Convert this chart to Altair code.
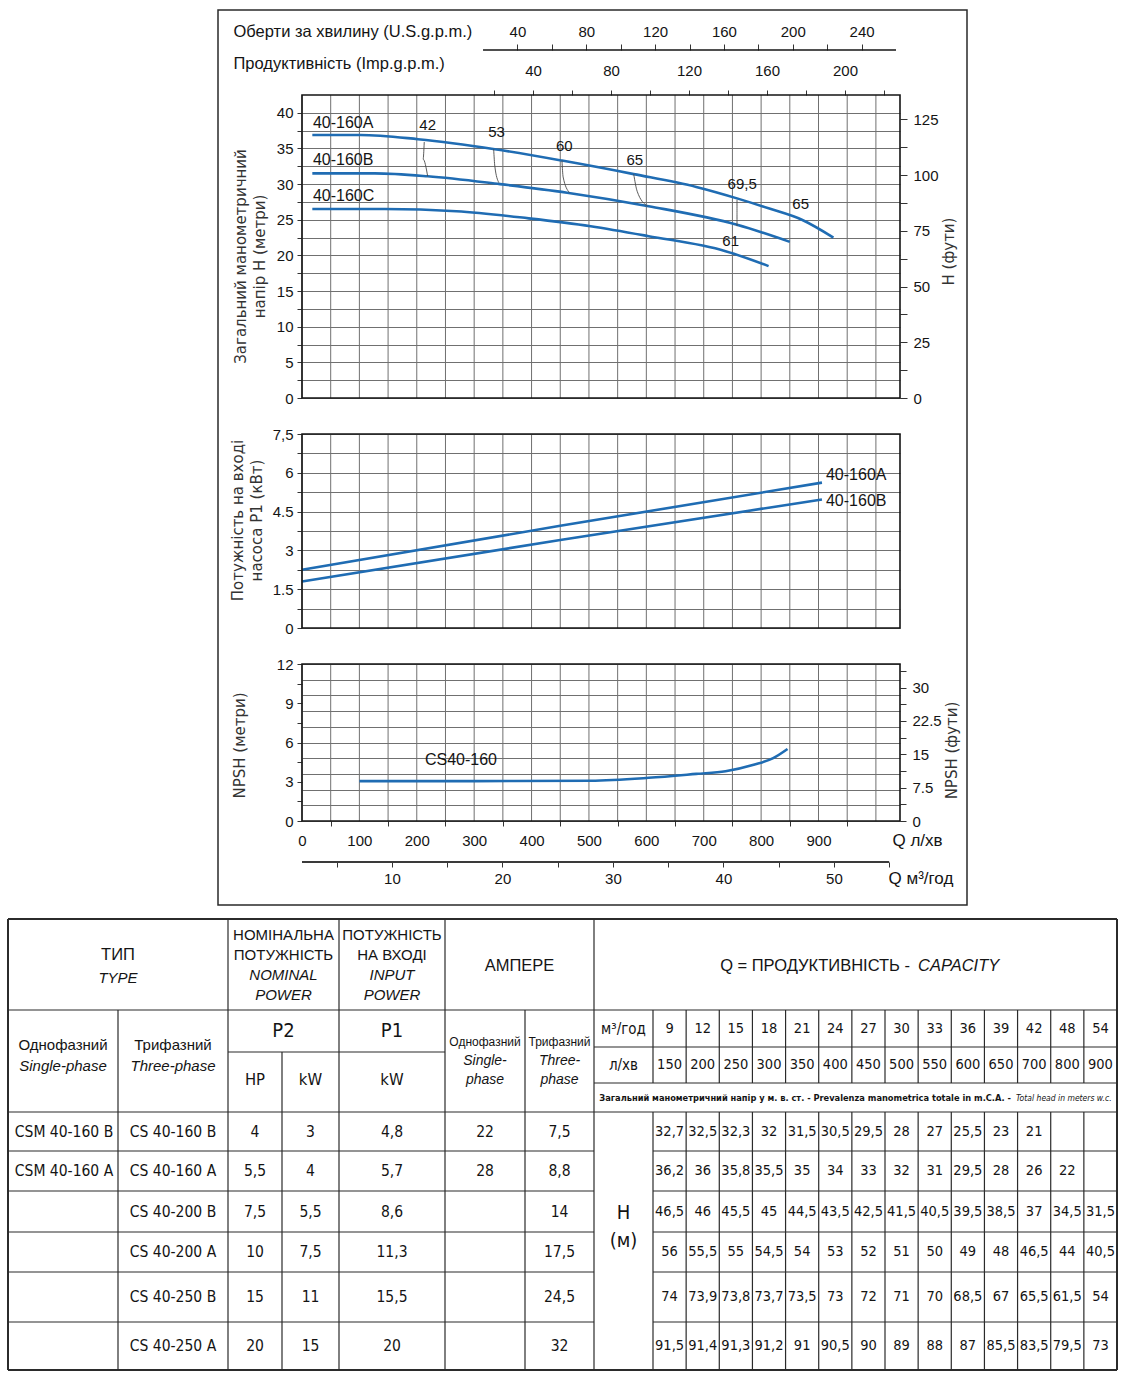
import altair as alt
import pandas as pd

# ============================ DATA ============================
# Head curves: Q in l/min, H in metres
head_a_q = [18, 102, 202, 336, 453, 578, 687, 758, 813, 871, 926]
head_a_h = [36.9, 36.9, 36.3, 34.9, 33.3, 31.4, 29.6, 28.0, 26.6, 25.0, 22.5]
head_b_q = [18, 127, 219, 345, 462, 604, 758, 850]
head_b_h = [31.5, 31.5, 31.1, 30.0, 28.8, 26.9, 24.3, 21.9]
head_c_q = [18, 144, 269, 395, 503, 604, 738, 813]
head_c_h = [26.5, 26.5, 26.2, 25.2, 24.1, 22.7, 20.6, 18.5]
curve_names = ["40-160A", "40-160B", "40-160C"]
curve_name_q = [19, 19, 19]
curve_name_h = [38.6, 33.4, 28.4]

# efficiency labels (%)
eff_labels = ["42", "53", "60", "65", "69,5", "65", "61"]
eff_q = [219, 339, 457, 580, 767, 869, 747]
eff_h = [38.3, 37.3, 35.4, 33.4, 30.0, 27.2, 22.0]

# efficiency leader lines (from curve A down to curve B)
leader_id = ["42"] * 3 + ["53"] * 3 + ["60"] * 3 + ["65"] * 3 + ["69,5"] * 3
leader_k = [0, 1, 2] * 5
leader_q = [213, 211, 219, 334, 336, 343, 453, 455, 466, 578, 584, 602, 758, 758, 758]
leader_h = [35.9, 33.5, 31.1, 34.9, 32.5, 30.2, 33.3, 31.0, 28.8, 31.4, 29.0, 26.9, 27.8, 26.0, 24.1]

# Input power P1 (kW)
power_a_q = [0, 450, 906]
power_a_p = [2.25, 3.95, 5.62]
power_b_q = [0, 450, 906]
power_b_p = [1.80, 3.40, 4.97]
power_names = ["40-160A", "40-160B"]
power_name_q = [913, 913]
power_name_p = [5.9, 4.9]

# NPSH (m)
npsh_q = [100, 300, 503, 604, 687, 738, 787, 821, 846]
npsh_m = [3.05, 3.05, 3.08, 3.3, 3.6, 3.8, 4.3, 4.8, 5.5]
npsh_name = ["CS40-160"]
npsh_name_q = [277]
npsh_name_m = [4.7]

# axis ticks and axis extents
Q_DOMAIN = [0, 1042]
Q_TICKS = list(range(0, 1001, 50))
HEAD_DOMAIN = [0, 42.5]
HEAD_TICKS = [2.5 * i for i in range(17)]
HEAD_FT_DOMAIN = [0, 135.9]
HEAD_FT_TICKS = [12.5 * i for i in range(11)]
IMP_DOMAIN = [-78.5, 228.2]
IMP_TICKS = list(range(20, 221, 20))
US_DOMAIN = [-85.2, 262.3]
US_LINE = [20, 260]
US_TICKS = list(range(40, 241, 20))
POWER_DOMAIN = [0, 7.5]
POWER_TICKS = [0.75 * i for i in range(11)]
NPSH_DOMAIN = [0, 12]
NPSH_GRID = [1.2 * i for i in range(11)]
NPSH_TICKS = [1.5 * i for i in range(9)]
NPSH_FT_DOMAIN = [0, 35.3]
NPSH_FT_TICKS = [3.75 * i for i in range(10)]
M3H_DOMAIN = [1.86, 55.98]
M3H_LINE = [1.86, 55]
M3H_TICKS = list(range(5, 56, 5))

# Table
tbl_single = ["CSM 40-160 B", "CSM 40-160 A", "", "", "", ""]
tbl_three = ["CS 40-160 B", "CS 40-160 A", "CS 40-200 B", "CS 40-200 A", "CS 40-250 B", "CS 40-250 A"]
tbl_hp = ["4", "5,5", "7,5", "10", "15", "20"]
tbl_kw = ["3", "4", "5,5", "7,5", "11", "15"]
tbl_p1 = ["4,8", "5,7", "8,6", "11,3", "15,5", "20"]
tbl_amp1 = ["22", "28", "", "", "", ""]
tbl_amp3 = ["7,5", "8,8", "14", "17,5", "24,5", "32"]
tbl_q_m3h = ["9", "12", "15", "18", "21", "24", "27", "30", "33", "36", "39", "42", "48", "54"]
tbl_q_lmin = ["150", "200", "250", "300", "350", "400", "450", "500", "550", "600", "650", "700", "800", "900"]
tbl_head = [
    ["32,7", "32,5", "32,3", "32", "31,5", "30,5", "29,5", "28", "27", "25,5", "23", "21", "", ""],
    ["36,2", "36", "35,8", "35,5", "35", "34", "33", "32", "31", "29,5", "28", "26", "22", ""],
    ["46,5", "46", "45,5", "45", "44,5", "43,5", "42,5", "41,5", "40,5", "39,5", "38,5", "37", "34,5", "31,5"],
    ["56", "55,5", "55", "54,5", "54", "53", "52", "51", "50", "49", "48", "46,5", "44", "40,5"],
    ["74", "73,9", "73,8", "73,7", "73,5", "73", "72", "71", "70", "68,5", "67", "65,5", "61,5", "54"],
    ["91,5", "91,4", "91,3", "91,2", "91", "90,5", "90", "89", "88", "87", "85,5", "83,5", "79,5", "73"],
]

# ============================ STYLE / LAYOUT ============================
BLUE = "#1f6cb3"
INK = "#141414"
GRID = "#707070"
SANS = "Liberation Sans, Arial, sans-serif"
NARROW = "Liberation Sans Narrow, Arial Narrow, DejaVu Sans Condensed, sans-serif"
TFONT = "DejaVu Sans, Verdana, sans-serif"

PLOT_W = 598
TOTAL_H = 726                 # from top of head panel to bottom of NPSH panel
HEAD_RANGE = [303, 0]         # pixel rows of each panel inside the common drawing area
POWER_RANGE = [533, 339]
NPSH_RANGE = [726, 569]


def sc(domain, rng=None):
    if rng is None:
        return alt.Scale(domain=domain, nice=False, zero=False)
    return alt.Scale(domain=domain, range=rng, nice=False, zero=False)


def Xq(axis=None, field="q:Q"):
    return alt.X(field, scale=sc(Q_DOMAIN), axis=axis)


def hidden_labels(step):
    return f"datum.value % {step} == 0 ? datum.label : ''"


def vgrid(domain, rng):
    n = len(Q_TICKS)
    df = pd.DataFrame({"q": Q_TICKS, "lo": [domain[0]] * n, "hi": [domain[1]] * n})
    return alt.Chart(df).mark_rule(color=GRID, strokeWidth=1).encode(
        x=Xq(), y=alt.Y("lo:Q", scale=sc(domain, rng), axis=None), y2="hi:Q")


def border(domain, rng):
    df = pd.DataFrame({"q": [Q_DOMAIN[0]], "q2": [Q_DOMAIN[1]], "lo": [domain[0]], "hi": [domain[1]]})
    return alt.Chart(df).mark_rect(fillOpacity=0, stroke=INK, strokeWidth=1.6).encode(
        x=Xq(), x2="q2:Q", y=alt.Y("lo:Q", scale=sc(domain, rng), axis=None), y2="hi:Q")


def labels_layer(q, v, t, domain, rng, size=16, align="center"):
    df = pd.DataFrame({"q": q, "v": v, "t": t})
    return alt.Chart(df).mark_text(font=SANS, fontSize=size, color=INK, align=align).encode(
        x=Xq(), y=alt.Y("v:Q", scale=sc(domain, rng), axis=None), text="t:N")


layers = []

# ---------------- HEAD PANEL ----------------
head_df = pd.DataFrame({
    "q": head_a_q + head_b_q + head_c_q,
    "h": head_a_h + head_b_h + head_c_h,
    "curve": ["A"] * len(head_a_q) + ["B"] * len(head_b_q) + ["C"] * len(head_c_q),
})
layers.append(vgrid(HEAD_DOMAIN, HEAD_RANGE))
layers.append(alt.Chart(head_df).mark_line(color=BLUE, strokeWidth=2.6, interpolate="monotone").encode(
    x=Xq(),
    y=alt.Y("h:Q", scale=sc(HEAD_DOMAIN, HEAD_RANGE), axis=alt.Axis(
        values=HEAD_TICKS, format=".1~f", labelExpr=hidden_labels(5), tickSize=5, labelPadding=4,
        domain=False, grid=True, title=["Загальний манометричний", "напір H (метри)"],
        titleX=-62, titleY=161, titleAngle=270, titleAlign="center", titleBaseline="middle",
        titleLineHeight=19)),
    detail="curve:N"))
leader_df = pd.DataFrame({"q": leader_q, "h": leader_h, "id": leader_id, "k": leader_k})
layers.append(alt.Chart(leader_df).mark_line(color="#4a4a4a", strokeWidth=0.9, interpolate="monotone").encode(
    x=Xq(), y=alt.Y("h:Q", scale=sc(HEAD_DOMAIN, HEAD_RANGE), axis=None), detail="id:N", order="k:Q"))
layers.append(labels_layer(eff_q, eff_h, eff_labels, HEAD_DOMAIN, HEAD_RANGE, size=15))
layers.append(labels_layer(curve_name_q, curve_name_h, curve_names, HEAD_DOMAIN, HEAD_RANGE, size=16,
                           align="left"))
layers.append(border(HEAD_DOMAIN, HEAD_RANGE))

layers.append(alt.Chart(pd.DataFrame({"ft": HEAD_FT_DOMAIN})).mark_point(opacity=0).encode(
    x=alt.value(0),
    y=alt.Y("ft:Q", scale=sc(HEAD_FT_DOMAIN, HEAD_RANGE), axis=alt.Axis(
        orient="right", values=HEAD_FT_TICKS, format=".1~f", labelExpr=hidden_labels(25), tickSize=7,
        labelPadding=6, domain=False, grid=False, title="H (фути)", titleX=48, titleY=156,
        titleAngle=270, titleAlign="center", titleBaseline="middle"))))

layers.append(alt.Chart(pd.DataFrame({"imp": IMP_DOMAIN})).mark_point(opacity=0).encode(
    y=alt.value(0),
    x=alt.X("imp:Q", scale=sc(IMP_DOMAIN), axis=alt.Axis(
        orient="top", values=IMP_TICKS, labelExpr=hidden_labels(40), tickSize=5, labelPadding=12,
        domain=False, grid=False, title="Продуктивність (Imp.g.p.m.)", titleX=-69, titleY=-32,
        titleAngle=0, titleAlign="left", titleBaseline="middle", titleFont=SANS, titleFontSize=16.5,
        titleColor=INK))))

us_df = pd.DataFrame({"us": [US_LINE[0]], "us2": [US_LINE[1]]})
layers.append(alt.Chart(us_df).mark_rule(color=INK, strokeWidth=1.6).encode(
    y=alt.value(-45),
    x=alt.X("us:Q", scale=sc(US_DOMAIN),
            axis=alt.Axis(orient="top", offset=45, values=US_TICKS, labelExpr=hidden_labels(40), tickSize=6,
                          labelPadding=4.5, domain=False, grid=False,
                          title="Оберти за хвилину (U.S.g.p.m.)", titleX=-69, titleY=-19, titleAngle=0,
                          titleAlign="left", titleBaseline="middle", titleFont=SANS, titleFontSize=16.5,
                          titleColor=INK)),
    x2="us2:Q"))

# outer frame around the three diagrams
layers.append(alt.Chart(alt.Data(values=[{"a": 1}])).mark_rect(
    fillOpacity=0, stroke="#2a2a2a", strokeWidth=1.5).encode(
    x=alt.value(-84), x2=alt.value(665), y=alt.value(-85), y2=alt.value(810)))

# ---------------- POWER PANEL ----------------
power_df = pd.DataFrame({
    "q": power_a_q + power_b_q,
    "p": power_a_p + power_b_p,
    "curve": ["A"] * len(power_a_q) + ["B"] * len(power_b_q),
})
layers.append(vgrid(POWER_DOMAIN, POWER_RANGE))
layers.append(alt.Chart(power_df).mark_line(color=BLUE, strokeWidth=2.6).encode(
    x=Xq(),
    y=alt.Y("p:Q", scale=sc(POWER_DOMAIN, POWER_RANGE), axis=alt.Axis(
        values=POWER_TICKS, format=".2~f",
        labelExpr="datum.value == 7.5 ? '7,5' : (datum.value % 1.5 == 0 ? datum.label : '')",
        tickSize=5, labelPadding=4, domain=False, grid=True,
        title=["Потужність на вході", "насоса P1 (кВт)"], titleX=-65, titleY=425, titleAngle=270,
        titleAlign="center", titleBaseline="middle", titleLineHeight=19)),
    detail="curve:N"))
layers.append(labels_layer(power_name_q, power_name_p, power_names, POWER_DOMAIN, POWER_RANGE, size=16,
                           align="left"))
layers.append(border(POWER_DOMAIN, POWER_RANGE))

# ---------------- NPSH PANEL ----------------
npsh_df = pd.DataFrame({"q": npsh_q, "n": npsh_m})
layers.append(vgrid(NPSH_DOMAIN, NPSH_RANGE))
layers.append(alt.Chart(npsh_df).mark_line(color=BLUE, strokeWidth=2.6, interpolate="monotone").encode(
    x=Xq(axis=alt.Axis(
        values=Q_TICKS, labelExpr="datum.value % 100 == 0 && datum.value <= 900 ? datum.label : ''",
        tickSize=5, tickOpacity={"condition": {"test": "datum.value % 100 == 0", "value": 0}, "value": 1},
        labelPadding=7.5, domain=False, grid=False, title="Q л/хв", titleX=590, titleY=19,
        titleAlign="left", titleBaseline="middle", titleAngle=0, titleFont=SANS, titleFontSize=17,
        titleColor=INK)),
    y=alt.Y("n:Q", scale=sc(NPSH_DOMAIN, NPSH_RANGE), axis=alt.Axis(
        values=NPSH_GRID, labels=False, ticks=False, domain=False, grid=True, title=None))))
layers.append(labels_layer(npsh_name_q, npsh_name_m, npsh_name, NPSH_DOMAIN, NPSH_RANGE, size=16))
layers.append(border(NPSH_DOMAIN, NPSH_RANGE))

layers.append(alt.Chart(pd.DataFrame({"m": NPSH_DOMAIN})).mark_point(opacity=0).encode(
    x=alt.value(0),
    y=alt.Y("m:Q", scale=sc(NPSH_DOMAIN, NPSH_RANGE), axis=alt.Axis(
        orient="left", values=NPSH_TICKS, format=".1~f", labelExpr=hidden_labels(3), tickSize=5,
        labelPadding=4, domain=False, grid=False, title="NPSH (метри)", titleX=-63, titleY=650,
        titleAngle=270, titleAlign="center", titleBaseline="middle"))))

layers.append(alt.Chart(pd.DataFrame({"ft": NPSH_FT_DOMAIN})).mark_point(opacity=0).encode(
    x=alt.value(0),
    y=alt.Y("ft:Q", scale=sc(NPSH_FT_DOMAIN, NPSH_RANGE), axis=alt.Axis(
        orient="right", values=NPSH_FT_TICKS, format=".1~f", labelExpr=hidden_labels(7.5), tickSize=6,
        labelPadding=6, domain=False, grid=False, title="NPSH (фути)", titleX=51, titleY=655,
        titleAngle=270, titleAlign="center", titleBaseline="middle"))))

m3_df = pd.DataFrame({"m3": [M3H_LINE[0]], "m3b": [M3H_LINE[1]]})
layers.append(alt.Chart(m3_df).mark_rule(color="#3a3a3a", strokeWidth=1.8).encode(
    y=alt.value(TOTAL_H + 41),
    x=alt.X("m3:Q", scale=sc(M3H_DOMAIN),
            axis=alt.Axis(orient="bottom", offset=41, values=M3H_TICKS,
                          labelExpr="datum.value % 10 == 0 && datum.value <= 50 ? datum.label : ''",
                          tickSize=5, labelPadding=4.5, domain=False,
                          grid=False, title="Q м³/год", titleX=586, titleY=16, titleAlign="left",
                          titleBaseline="middle", titleAngle=0, titleFont=SANS, titleFontSize=17,
                          titleColor=INK)),
    x2="m3b:Q"))

# ---------------- TABLE ----------------
T_W, T_H = 1109, 451
T_DW = (T_W - 645) / 14
T_DCOLS = [645 + T_DW * k for k in range(15)]
T_ROWS = [193, 232, 272, 313, 353, 403, 451]
row_mid = [(T_ROWS[i] + T_ROWS[i + 1]) / 2 for i in range(6)]
dcol_mid = [(T_DCOLS[i] + T_DCOLS[i + 1]) / 2 for i in range(14)]
T_XRANGE = [-294, 815]        # table drawn from x=8 to x=1117 of the page
T_YRANGE = [824, 1275]        # and from y=919 to y=1370

rules = []


def rule(x1, y1, x2, y2, w=1.2):
    rules.append({"tx": x1, "ty": y1, "tx2": x2, "ty2": y2, "w": w})


for yy in [0, T_H]:
    rule(0, yy, T_W, yy, 2)
for xx in [0, T_W]:
    rule(xx, 0, xx, T_H, 2)
rule(0, 91, T_W, 91)
rule(0, 193, T_W, 193)
rule(220, 133, 437, 133)
rule(586, 128, T_W, 128)
rule(586, 164, T_W, 164)
for yy in T_ROWS[1:-1]:
    rule(0, yy, 586, yy)
    rule(645, yy, T_W, yy)
rule(110, 91, 110, T_H)
for xx in [220, 331, 437, 586]:
    rule(xx, 0, xx, T_H)
rule(274, 133, 274, T_H)
rule(517, 91, 517, T_H)
for xx in T_DCOLS[:-1]:
    rule(xx, 91, xx, 164)
    rule(xx, 193, xx, T_H)


def tx():
    return alt.X("tx:Q", scale=sc([0, T_W], T_XRANGE), axis=None)


def ty():
    return alt.Y("ty:Q", scale=sc([0, T_H], T_YRANGE), axis=None)


layers.append(alt.Chart(pd.DataFrame(rules)).mark_rule(color="#2b2b2b").encode(
    x=tx(), x2="tx2:Q", y=ty(), y2="ty2:Q", strokeWidth=alt.StrokeWidth("w:Q", scale=None)))


def cells(texts, xs, ys):
    return [{"tx": x, "ty": y, "text": t} for t, x, y in zip(texts, xs, ys) if t != ""]


def text_layer(items, size, font=NARROW, style="normal", weight="normal", align="center"):
    return alt.Chart(pd.DataFrame(items)).mark_text(
        font=font, fontSize=size, fontStyle=style, fontWeight=weight, align=align, baseline="middle",
        color=INK).encode(x=tx(), y=ty(), text="text:N")


left_items = []
for col_vals, cx in [(tbl_single, 56), (tbl_three, 165), (tbl_hp, 247), (tbl_kw, 302.5),
                     (tbl_p1, 384), (tbl_amp1, 477), (tbl_amp3, 551.5)]:
    left_items += cells(col_vals, [cx] * 6, row_mid)
grid_items = []
grid_items += cells(tbl_q_m3h, dcol_mid, [109.5] * 14)
grid_items += cells(tbl_q_lmin, dcol_mid, [146] * 14)
for r, row_vals in enumerate(tbl_head):
    grid_items += cells(row_vals, dcol_mid, [row_mid[r]] * 14)
unit_items = cells(["м³/год", "л/хв"], [615.5, 615.5], [109.5, 146])
hpkw_items = cells(["HP", "kW", "kW"], [247, 302.5, 384], [161, 161, 161])

hdr_items = cells(["НОМІНАЛЬНА", "ПОТУЖНІСТЬ", "ПОТУЖНІСТЬ", "НА ВХОДІ",
                   "Однофазний", "Трифазний"],
                  [275.5, 275.5, 384, 384, 55, 165],
                  [16, 36, 16, 36, 126, 126])
title_items = cells(["ТИП", "АМПЕРЕ"], [110, 511.5], [36, 47])
hdr_it_items = cells(["TYPE", "NOMINAL", "POWER", "INPUT", "POWER", "Single-phase", "Three-phase"],
                     [110, 275.5, 275.5, 384, 384, 55, 165],
                     [59, 56, 76, 56, 76, 147, 147])
big_items = cells(["P2", "P1", "H", "(м)"], [275.5, 384, 615.5, 615.5], [112, 112, 294, 322])
amp_items = cells(["Однофазний", "Трифазний"], [477, 551.5], [123, 123])
amp_it_items = cells(["Single-", "phase", "Three-", "phase"], [477, 477, 551.5, 551.5], [142, 161, 142, 161])
q_items = cells(["Q = ПРОДУКТИВНІСТЬ -"], [902], [47])
q_it_items = cells(["CAPACITY"], [910], [47])
tiny_items = cells(["Загальний манометричний напір у м. в. ст. - Prevalenza manometrica totale in m.C.A. -"],
                   [1003], [178.5])
tiny_it_items = cells(["Total head in meters w.c."], [1008], [178.5])

layers += [
    text_layer(left_items, 15.5),
    text_layer(grid_items, 14.5),
    text_layer(unit_items, 15),
    text_layer(hpkw_items, 16.5),
    text_layer(hdr_items, 15, font=SANS),
    text_layer(title_items, 16.5, font=SANS),
    text_layer(hdr_it_items, 15, font=SANS, style="italic"),
    text_layer(big_items, 20),
    text_layer(amp_items, 12, font=SANS),
    text_layer(amp_it_items, 14, font=SANS, style="italic"),
    text_layer(q_items, 16.5, font=SANS, align="right"),
    text_layer(q_it_items, 16.5, font=SANS, style="italic", align="left"),
    text_layer(tiny_items, 9.2, weight="bold", align="right"),
    text_layer(tiny_it_items, 8.5, style="italic", align="left"),
]

chart = alt.layer(*layers).resolve_scale(x="independent", y="independent").properties(
    width=PLOT_W, height=TOTAL_H, padding={"left": 7, "top": 9, "right": 2, "bottom": 2}).configure(
    background="white").configure_view(stroke="transparent").configure_axis(
    labelFont=SANS, labelFontSize=15, labelColor=INK, tickColor="#333333", tickWidth=1,
    gridColor=GRID, gridWidth=1, gridOpacity=1, titleFont=TFONT, titleFontSize=15,
    titleFontWeight="normal", titleColor="#333333", labelOverlap=False, labelFlush=False)

chart.save("out.html", embed_options={"renderer": "svg", "actions": False})
